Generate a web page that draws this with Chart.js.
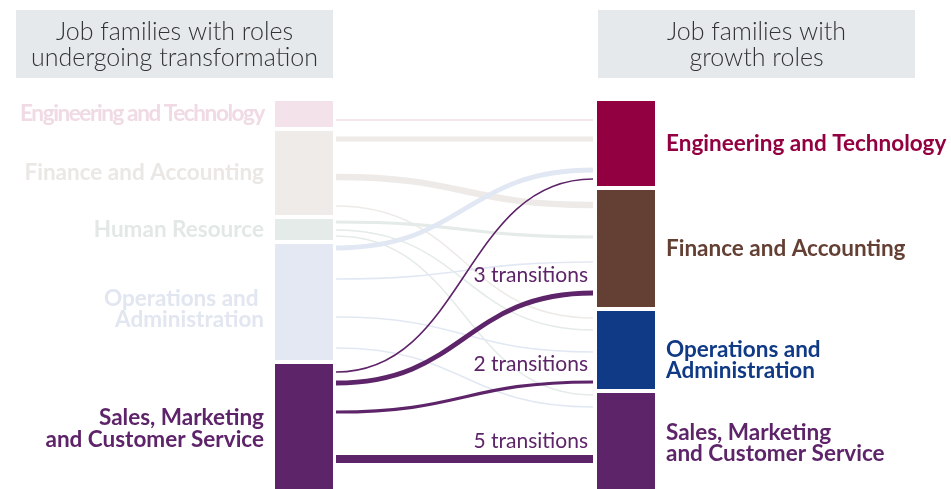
<!DOCTYPE html>
<html>
<head>
<meta charset="utf-8">
<script src="https://cdn.jsdelivr.net/npm/chart.js@4.4.1/dist/chart.umd.min.js"></script>
<style>
  html, body { margin: 0; padding: 0; background: #fff; }
  #wrap { position: relative; width: 951px; height: 489px; }
</style>
</head>
<body>
<div id="wrap"><canvas id="sankey" width="951" height="489"></canvas></div>
<script>
// Node names (left = roles undergoing transformation, right = growth roles)
const leftNodes = ['Engineering and Technology', 'Finance and Accounting', 'Human Resource', 'Operations and \nAdministration', 'Sales, Marketing\nand Customer Service'];
const leftSizes = [26, 84, 21, 116, 125];
const rightNodes = ['Engineering and Technology', 'Finance and Accounting', 'Operations and\nAdministration', 'Sales, Marketing\nand Customer Service'];
const rightSizes = [85, 117, 78, 96];

// Links between the two columns
const flowFrom = [0, 1, 1, 1, 2, 2, 2, 3, 3, 3, 3, 4, 4, 4, 4];
const flowTo = [0, 0, 1, 2, 1, 2, 3, 0, 1, 2, 3, 0, 1, 2, 3];
const flowTransitions = [1, 3, 4, 1, 2, 1, 1, 3, 1, 1, 1, 1, 3, 2, 5];
// where each link leaves / joins its node (units from the node top)
const flowFromOffset = [19, 8, 46, 75, 3, 11, 17, 4, 35, 73, 104, 8, 19, 48, 95];
const flowToOffset = [19, 38, 15, 7, 47, 19, 2, 69, 72, 41, 14, 78, 103, 71, 66];
// labelled links
const labelledFlows = [12, 13, 14];

const headers = [['Job families with roles', 'undergoing transformation'], ['Job families with', 'growth roles']];

// styles
const nodeGap = 4;
const nodeWidth = 58 / 380;
const leftColors = ['#f3e2e9', '#eeebe8', '#e5ebe8', '#e3e8f2', '#5e2469'];
const leftTextColors = ['#f0dae3', '#ebe7e4', '#e2e8e5', '#e1e6f0', '#5e2469'];
const flowColors = ['#f4dde6', '#eeeae7', '#e4ebe8', '#e2e8f3', '#5e2469'];
const rightColors = ['#930042', '#643f33', '#103a85', '#5e2469'];
const leftLabelShift = [0, 0, 0, 7, 2];
const rightLabelShift = [0, 0, 10, 2];
const leftLetterSpacing = ['-1.4px', '0px', '0px', '0px', '0px'];
const labelFont = 'bold 22.5px Lato';

function nodeTops(sizes) {
  const tops = [];
  let acc = 0;
  sizes.forEach(s => { tops.push(acc); acc += s + nodeGap; });
  return tops;
}
const totalUnits = leftSizes.reduce((a, b) => a + b, 0) + nodeGap * (leftSizes.length - 1);

function drawLabel(ctx, text, x, yc, align, color) {
  const lines = text.split('\n');
  const lh = 21.5;
  ctx.fillStyle = color;
  ctx.textAlign = align;
  ctx.textBaseline = 'middle';
  lines.forEach((l, i) => {
    ctx.fillText(l, x, yc + (i - (lines.length - 1) / 2) * lh);
  });
}

const sankeyPlugin = {
  id: 'sankey',
  afterDatasetsDraw(chart) {
    const ctx = chart.ctx;
    const xs = chart.scales.x, ys = chart.scales.y;
    const lTops = nodeTops(leftSizes), rTops = nodeTops(rightSizes);
    const lx0 = xs.getPixelForValue(0), lx1 = xs.getPixelForValue(nodeWidth);
    const rx0 = xs.getPixelForValue(1 - nodeWidth), rx1 = xs.getPixelForValue(1);
    ctx.save();

    // header boxes
    const hw = 317;
    [[lx1 - hw, headers[0]], [rx0 + 1, headers[1]]].forEach(([bx, lines]) => {
      ctx.fillStyle = '#e6e9ec';
      ctx.fillRect(bx, 10, hw, 68);
      ctx.fillStyle = '#333333';
      ctx.font = '300 25px Lato';
      ctx.textAlign = 'center';
      ctx.textBaseline = 'middle';
      lines.forEach((l, i) => ctx.fillText(l, bx + hw / 2, 32 + i * 26));
    });

    // links, faded ones first
    const order = flowFrom.map((_, i) => i).sort((a, b) => (flowFrom[a] === 4) - (flowFrom[b] === 4));
    const sx = lx1 + 3, ex = rx0 - 4, mx = (sx + ex) / 2;
    order.forEach(i => {
      const y0 = ys.getPixelForValue(lTops[flowFrom[i]] + flowFromOffset[i]);
      const y1 = ys.getPixelForValue(rTops[flowTo[i]] + flowToOffset[i]);
      ctx.beginPath();
      ctx.moveTo(sx, y0);
      ctx.bezierCurveTo(mx, y0, mx, y1, ex, y1);
      ctx.strokeStyle = flowColors[flowFrom[i]];
      ctx.lineWidth = Math.max(1.2, flowTransitions[i] * 1.6);
      ctx.lineCap = 'butt';
      ctx.stroke();
    });

    // link labels
    ctx.font = '21px Lato';
    ctx.fillStyle = '#5e2469';
    ctx.textAlign = 'right';
    ctx.textBaseline = 'middle';
    labelledFlows.forEach(i => {
      const y1 = ys.getPixelForValue(rTops[flowTo[i]] + flowToOffset[i]);
      ctx.fillText(flowTransitions[i] + ' transitions', rx0 - 9, y1 - 18);
    });

    // nodes
    ctx.font = labelFont;
    leftSizes.forEach((s, i) => {
      const t = ys.getPixelForValue(lTops[i]), b = ys.getPixelForValue(lTops[i] + s);
      ctx.fillStyle = leftColors[i];
      ctx.fillRect(lx0, t, lx1 - lx0, b - t);
      ctx.letterSpacing = leftLetterSpacing[i];
      drawLabel(ctx, leftNodes[i], lx0 - 11, (t + b) / 2 + leftLabelShift[i], 'right', leftTextColors[i]);
    });
    ctx.letterSpacing = '0px';
    rightSizes.forEach((s, i) => {
      const t = ys.getPixelForValue(rTops[i]), b = ys.getPixelForValue(rTops[i] + s);
      ctx.fillStyle = rightColors[i];
      ctx.fillRect(rx0, t, rx1 - rx0, b - t);
      drawLabel(ctx, rightNodes[i], rx1 + 11, (t + b) / 2 + rightLabelShift[i], 'left', rightColors[i]);
    });
    ctx.restore();
  }
};

new Chart(document.getElementById('sankey'), {
  type: 'scatter',
  data: { datasets: [{ data: [] }] },
  options: {
    responsive: false,
    animation: false,
    devicePixelRatio: 1,
    layout: { padding: { left: 275, right: 296, top: 101, bottom: 0 } },
    plugins: { legend: { display: false }, tooltip: { enabled: false } },
    scales: {
      x: { type: 'linear', min: 0, max: 1, display: false },
      y: { type: 'linear', min: 0, max: totalUnits, reverse: true, display: false }
    }
  },
  plugins: [sankeyPlugin]
});
</script>
</body>
</html>
